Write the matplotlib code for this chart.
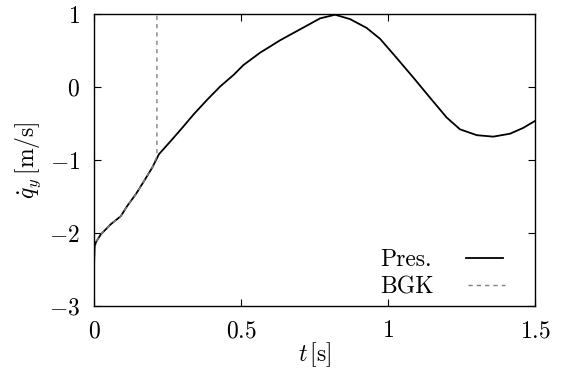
import numpy as np
import matplotlib
matplotlib.use('Agg')
import matplotlib.pyplot as plt

plt.rcParams['font.family'] = 'serif'
plt.rcParams['font.serif'] = ['cmr10', 'DejaVu Serif']
plt.rcParams['mathtext.fontset'] = 'cm'
plt.rcParams['axes.unicode_minus'] = False

# Pres. curve
t_pres = [0.0, 0.002, 0.006, 0.023, 0.057, 0.091, 0.113, 0.142, 0.170, 0.198,
          0.221, 0.261, 0.300, 0.340, 0.386, 0.431, 0.476, 0.508, 0.565, 0.633,
          0.701, 0.769, 0.820, 0.871, 0.927, 0.973, 1.029, 1.086, 1.143, 1.200,
          1.245, 1.302, 1.358, 1.415, 1.460, 1.5]
v_pres = [-2.45, -2.2, -2.13, -2.02, -1.88, -1.77, -1.63, -1.47, -1.29, -1.105,
          -0.92, -0.74, -0.56, -0.37, -0.17, 0.014, 0.17, 0.30, 0.47, 0.64,
          0.79, 0.94, 0.99, 0.93, 0.81, 0.66, 0.40, 0.13, -0.147, -0.42,
          -0.58, -0.66, -0.68, -0.64, -0.56, -0.465]

# BGK curve: follows Pres. then diverges at t~0.215
t_bgk = [0.0, 0.002, 0.006, 0.023, 0.057, 0.091, 0.113, 0.142, 0.170, 0.198, 0.214, 0.2145]
v_bgk = [-2.45, -2.2, -2.13, -2.02, -1.88, -1.77, -1.63, -1.47, -1.29, -1.105, -0.95, 20.0]

xticks = [0, 0.5, 1, 1.5]
xticklabels = ['$0$', '$0.5$', '$1$', '$1.5$']
yticks = [-3, -2, -1, 0, 1]
yticklabels = ['$-3$', '$-2$', '$-1$', '$0$', '$1$']

fig = plt.figure(figsize=(5.67, 3.71), dpi=100)
ax = fig.add_axes([94/567, 1-306/371, (535-94)/567, (306-14)/371])

ax.plot(t_pres, v_pres, color='black', lw=1.3, label='Pres.')
ax.plot(t_bgk, v_bgk, color='#808080', lw=1.0, dashes=(3, 3), label='BGK')

ax.set_xlim(0, 1.5)
ax.set_ylim(-3, 1)
ax.set_xticks(xticks)
ax.set_xticklabels(xticklabels)
ax.set_yticks(yticks)
ax.set_yticklabels(yticklabels)
ax.tick_params(direction='in', top=True, right=True, length=5, width=0.8,
               labelsize=17)
ax.tick_params(axis='x', pad=10)
ax.tick_params(axis='y', pad=10)
for s in ax.spines.values():
    s.set_linewidth(1.0)

ax.set_xlabel(r'$t\,[\mathrm{s}]$', fontsize=17, labelpad=-1)
ax.set_ylabel(r'$\dot{q}_y\,[\mathrm{m/s}]$', fontsize=17, labelpad=4)

leg = ax.legend(loc='lower right', frameon=False, markerfirst=False, fontsize=17,
                handlelength=1.57, handletextpad=1.45, labelspacing=0.2,
                borderpad=0, borderaxespad=0,
                bbox_to_anchor=((505-94)/441, 8/292))
# left-align the legend texts like the original
for col in leg._legend_handle_box.get_children():
    col.align = 'left'

fig.savefig('out.png', dpi=100)
